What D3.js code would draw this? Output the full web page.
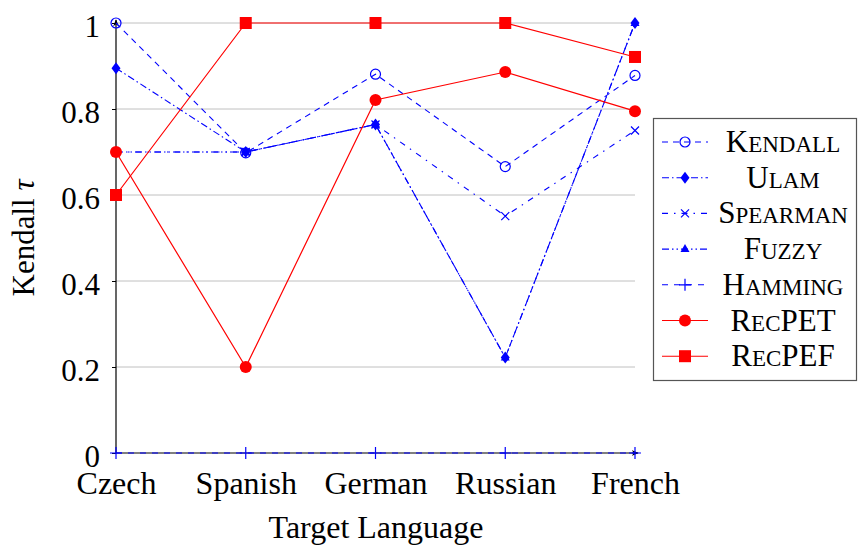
<!DOCTYPE html>
<html>
<head>
<meta charset="utf-8">
<script src="https://cdn.jsdelivr.net/npm/d3@7"></script>
<style>
  body { margin: 0; background: #fff; }
</style>
</head>
<body>
<div id="frame"></div>
<script>
//categories and values
let languages = ["Czech", "Spanish", "German", "Russian", "French"];
let kendall  = [1.0, 0.698, 0.881, 0.666, 0.878];
let ulam     = [0.895, 0.70, 0.764, 0.222, 1.0];
let spearman = [0.70, 0.70, 0.764, 0.551, 0.75];
let fuzzy    = [0.70, 0.70, 0.764, 0.222, 1.0];
let hamming  = [0, 0, 0, 0, 0];
let recpet   = [0.70, 0.20, 0.821, 0.886, 0.795];
let recpef   = [0.60, 1.0, 1.0, 1.0, 0.921];
let yTicks = [0, 0.2, 0.4, 0.6, 0.8, 1];

//series setup (legend order)
let series = [
    { name: ["K", "ENDALL"], values: kendall, color: "#0000ff", dash: "6,5", marker: "circle" },
    { name: ["U", "LAM"], values: ulam, color: "#0000ff", dash: "7,3,1.5,3", marker: "diamond" },
    { name: ["S", "PEARMAN"], values: spearman, color: "#0000ff", dash: "6,6,1.5,6", marker: "cross" },
    { name: ["F", "UZZY"], values: fuzzy, color: "#0000ff", dash: "7,3,1.5,3,1.5,3", marker: "triangle" },
    { name: ["H", "AMMING"], values: hamming, color: "#0000ff", dash: "6,6", marker: "plus" },
    { name: ["R", "EC", "PET"], values: recpet, color: "#ff0000", dash: null, marker: "dot" },
    { name: ["R", "EC", "PEF"], values: recpef, color: "#ff0000", dash: null, marker: "square" }
];
//drawing order: fuzzy before ulam so diamonds sit on top
let drawOrder = [0, 3, 1, 2, 4, 5, 6];
let serif = 'Liberation Serif';

let W = 858, H = 547;
let svg = d3.select('#frame').append('svg')
    .attr('width', W)
    .attr('height', H)
    .attr('font-family', serif);

let x = d3.scalePoint().domain(languages).range([116, 635]);
let y = d3.scaleLinear().domain([0, 1]).range([453, 23]);

//grid
svg.append('g')
    .selectAll('line')
    .data(yTicks.filter(d => d > 0))
    .enter()
    .append('line')
    .attr('x1', 116).attr('x2', 635)
    .attr('y1', d => y(d)).attr('y2', d => y(d))
    .style('stroke', '#c0c0c0')
    .style('stroke-width', 1);

//y axis
let yAxis = svg.append('g')
    .attr('transform', 'translate(116,0)')
    .call(d3.axisLeft(y).tickValues(yTicks).tickSize(4).tickPadding(12)
        .tickFormat(d => d === 0 ? "0" : d === 1 ? "1" : d3.format(".1f")(d)));
yAxis.attr('font-family', serif).attr('font-size', 31);
yAxis.select('.domain').remove();
yAxis.selectAll('text').attr('dy', '0.42em');
yAxis.selectAll('line').style('stroke', '#000');

//x axis
let xAxis = svg.append('g')
    .attr('transform', 'translate(0,453)')
    .call(d3.axisBottom(x).tickSize(0).tickPadding(18));
xAxis.attr('font-family', serif).attr('font-size', 32);
xAxis.select('.domain').remove();

//axis lines with arrows
let defs = svg.append('defs');
defs.append('marker')
    .attr('id', 'arrow')
    .attr('viewBox', '0 0 10 10')
    .attr('refX', 9).attr('refY', 5)
    .attr('markerWidth', 7).attr('markerHeight', 7)
    .attr('markerUnits', 'userSpaceOnUse')
    .attr('orient', 'auto')
    .append('path')
    .attr('d', 'M0,1 L10,5 L0,9 L3,5 Z')
    .style('fill', '#000');

svg.append('line')
    .attr('x1', 116).attr('y1', 453).attr('x2', 116).attr('y2', 20)
    .style('stroke', '#000').style('stroke-width', 1.2)
    .attr('marker-end', 'url(#arrow)');
svg.append('line')
    .attr('x1', 116).attr('y1', 453).attr('x2', 638).attr('y2', 453)
    .style('stroke', '#000').style('stroke-width', 1.2)
    .attr('marker-end', 'url(#arrow)');

//axis titles
svg.append('text')
    .attr('x', 376).attr('y', 538)
    .attr('font-family', serif).attr('font-size', 32)
    .style('text-anchor', 'middle')
    .text('Target Language');
let yt = svg.append('text')
    .attr('transform', 'translate(34,238) rotate(-90)')
    .attr('font-family', serif).attr('font-size', 31)
    .style('text-anchor', 'middle');
yt.append('tspan').text('Kendall ');
yt.append('tspan').style('font-style', 'italic').text('τ');

//marker drawing
function drawMarker(g, type, color, cx, cy) {
    if (type === 'circle') {
        g.append('circle').attr('cx', cx).attr('cy', cy).attr('r', 5)
            .style('fill', 'none').style('stroke', color).style('stroke-width', 1.2);
    } else if (type === 'dot') {
        g.append('circle').attr('cx', cx).attr('cy', cy).attr('r', 6)
            .style('fill', color);
    } else if (type === 'square') {
        g.append('rect').attr('x', cx - 6).attr('y', cy - 6).attr('width', 12).attr('height', 12)
            .style('fill', color);
    } else if (type === 'diamond') {
        g.append('path').attr('d', `M${cx},${cy - 6}L${cx + 4.5},${cy}L${cx},${cy + 6}L${cx - 4.5},${cy}Z`)
            .style('fill', color);
    } else if (type === 'triangle') {
        g.append('path').attr('d', `M${cx},${cy - 5}L${cx + 4.5},${cy + 3}L${cx - 4.5},${cy + 3}Z`)
            .style('fill', color);
    } else if (type === 'cross') {
        g.append('path').attr('d', `M${cx - 4},${cy - 4}L${cx + 4},${cy + 4}M${cx - 4},${cy + 4}L${cx + 4},${cy - 4}`)
            .style('stroke', color).style('stroke-width', 1.2);
    } else if (type === 'plus') {
        g.append('path').attr('d', `M${cx - 6},${cy}L${cx + 6},${cy}M${cx},${cy - 6}L${cx},${cy + 6}`)
            .style('stroke', color).style('stroke-width', 1.2);
    }
}

let line = d3.line()
    .x((d, i) => x(languages[i]))
    .y(d => y(d));

drawOrder.forEach(k => {
    let s = series[k];
    let g = svg.append('g');
    g.append('path')
        .attr('d', line(s.values))
        .style('fill', 'none')
        .style('stroke', s.color)
        .style('stroke-width', s.dash ? 1.1 : 1.2)
        .style('stroke-dasharray', s.dash);
    s.values.forEach((v, i) => drawMarker(g, s.marker, s.color, x(languages[i]), y(v)));
});

//legend
let lg = svg.append('g');
lg.append('rect')
    .attr('x', 653.5).attr('y', 118.5).attr('width', 203).attr('height', 262)
    .style('fill', '#fff').style('stroke', '#555').style('stroke-width', 1.2);

series.forEach((s, i) => {
    let cy = 142 + i * 35.7;
    lg.append('line')
        .attr('x1', 662).attr('x2', 708).attr('y1', cy).attr('y2', cy)
        .style('stroke', s.color).style('stroke-width', 1.1)
        .style('stroke-dasharray', s.dash);
    drawMarker(lg, s.marker, s.color, 685, cy);
    let t = lg.append('text')
        .attr('x', 783).attr('y', cy + 10)
        .attr('font-family', serif)
        .attr('font-size', 31)
        .style('text-anchor', 'middle');
    s.name.forEach((part, j) => {
        t.append('tspan')
            .attr('font-size', j % 2 === 1 ? 23 : 31)
            .text(part);
    });
});
</script>
</body>
</html>
